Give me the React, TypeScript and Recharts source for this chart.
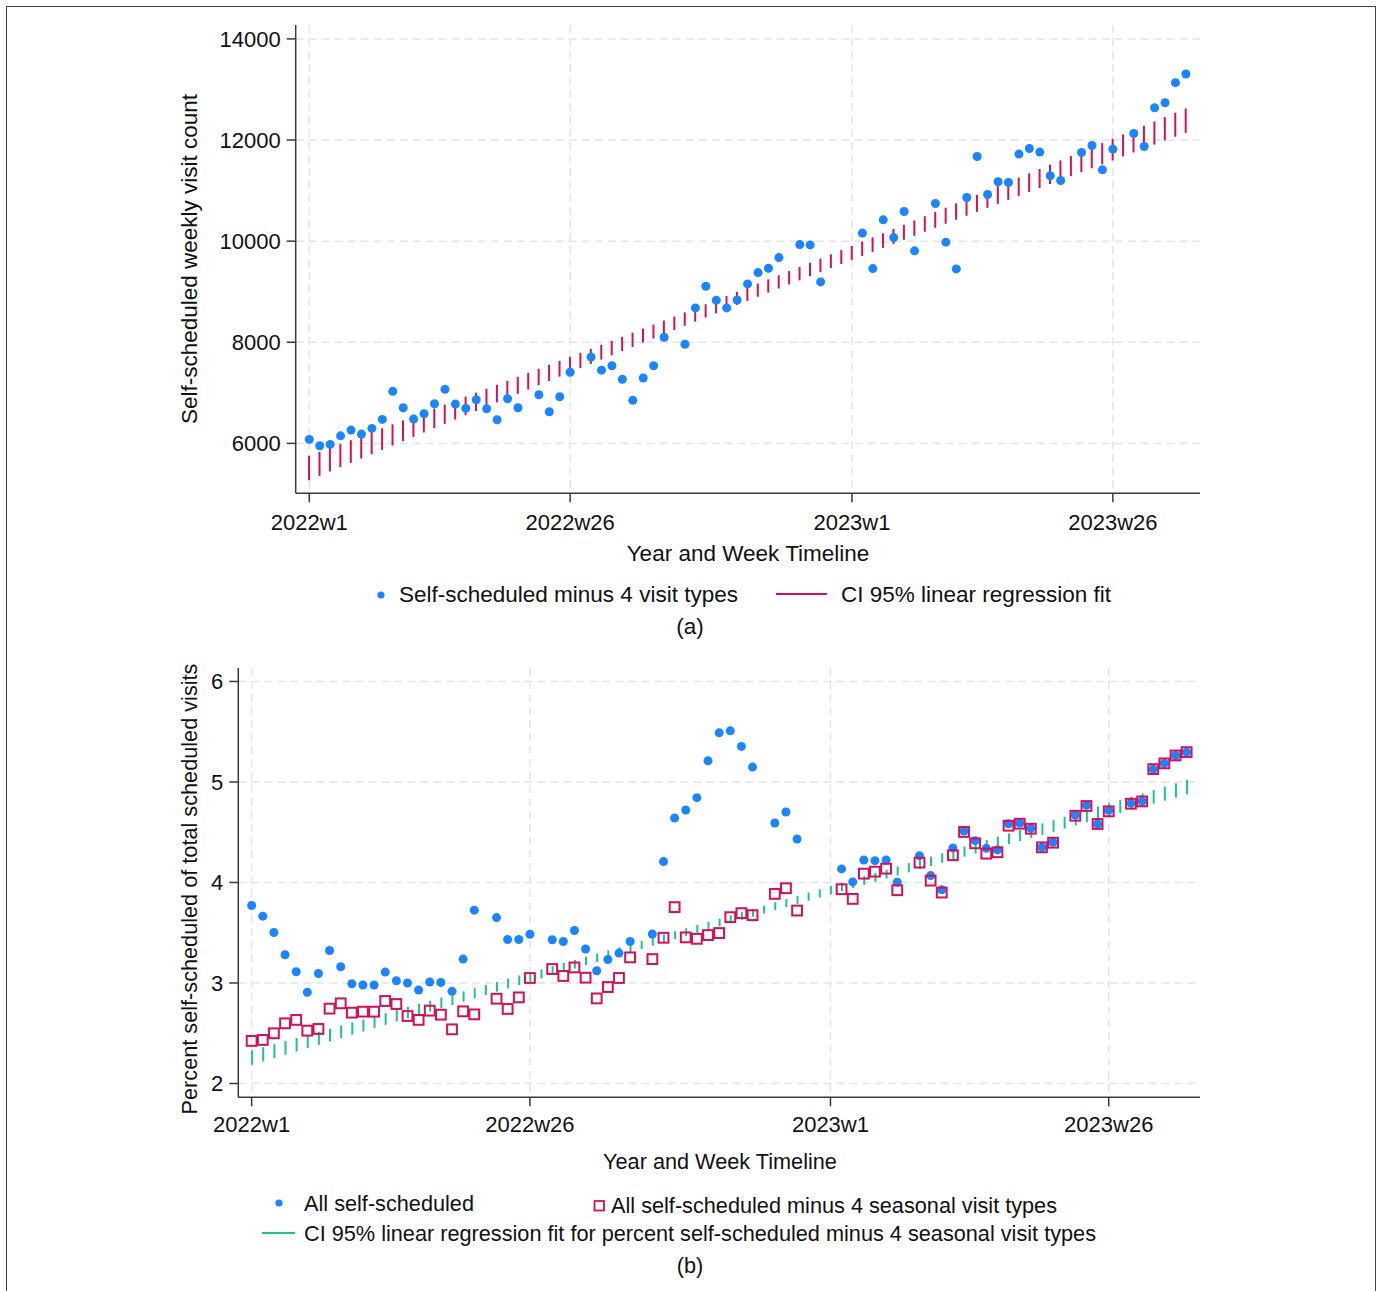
import { Bar, CartesianGrid, ComposedChart, Scatter, XAxis, YAxis } from "recharts";

const FONT = '"Liberation Sans", Arial, Helvetica, sans-serif';
const BLUE = "#1A85FF";
const RED = "#D41159";
const GREEN = "#1FC48A";
const AXIS = "#3a3a3a";
const GRID = "#e4e4e4";

// week index 0 = 2022w1, 52 = 2023w1 (Stata 52-week years)
const xTickWeeks = [0, 25, 52, 77];
const xTickLabels = ["2022w1", "2022w26", "2023w1", "2023w26"];

// panel (a): weekly self-scheduled visit count (minus 4 visit types); null = no point drawn
const visitsA = [
  6079, 5953, 5980, 6150, 6263, 6184, 6297, 6475, 7030, 6705,
  6481, 6586, 6784, 7069, 6778, 6693, 6863, 6685, 6467, 6883,
  6705, null, 6962, 6626, 6923, 7406, null, 7709, 7448, 7536,
  7267, 6851, 7293, 7536, 8099, null, 7960, 8679, 9109, 8831,
  8679, 8837, 9154, 9378, 9465, 9675, null, 9932, 9926, 9194,
  null, null, null, 10160, 9457, 10421, 10071, 10586, 9808, null,
  10744, 9980, 9451, 10863, 11675, 10922, 11174, 11160, 11722, 11833,
  11762, 11293, 11200, null, 11754, 11892, 11411, 11821, null, 12130,
  11873, 12639, 12738, 13134, 13306,
];
const ciLoA = [
  5272, 5358, 5444, 5530, 5615, 5701, 5787, 5872, 5958, 6044,
  6129, 6215, 6300, 6385, 6471, 6556, 6641, 6726, 6811, 6896,
  6981, 7066, 7151, 7235, 7320, 7404, 7489, 7573, 7657, 7741,
  7825, 7908, 7992, 8075, 8159, 8242, 8325, 8407, 8490, 8572,
  8655, 8737, 8819, 8900, 8982, 9063, 9144, 9225, 9306, 9387,
  9467, 9548, 9628, 9708, 9788, 9868, 9947, 10027, 10106, 10186,
  10265, 10344, 10423, 10502, 10580, 10659, 10738, 10816, 10895, 10973,
  11052, 11130, 11208, 11286, 11364, 11442, 11520, 11598, 11676, 11754,
  11832, 11910, 11988, 12066, 12143,
];
const ciHiA = [
  5754, 5832, 5909, 5987, 6065, 6143, 6221, 6299, 6377, 6455,
  6533, 6611, 6689, 6767, 6846, 6924, 7003, 7081, 7160, 7238,
  7317, 7396, 7475, 7554, 7633, 7712, 7791, 7870, 7950, 8030,
  8109, 8189, 8269, 8350, 8430, 8510, 8591, 8672, 8753, 8834,
  8915, 8997, 9079, 9161, 9243, 9325, 9407, 9490, 9573, 9656,
  9739, 9822, 9905, 9989, 10073, 10156, 10240, 10324, 10409, 10493,
  10577, 10662, 10747, 10831, 10916, 11001, 11086, 11171, 11256, 11341,
  11427, 11512, 11597, 11683, 11768, 11854, 11939, 12025, 12110, 12196,
  12282, 12368, 12453, 12539, 12625,
];
const yTicksA = [6000, 8000, 10000, 12000, 14000];

// panel (b): percent self-scheduled of total scheduled visits
const allSelfB = [
  3.771, 3.665, 3.503, 3.281, 3.112, 2.907, 3.095, 3.324, 3.162, 2.993,
  2.98, 2.98, 3.109, 3.023, 3.0, 2.93, 3.01, 3.006, 2.917, 3.238,
  3.725, null, 3.651, 3.433, 3.433, 3.485, null, 3.43, 3.413, 3.522,
  3.338, 3.122, 3.234, 3.298, 3.413, null, 3.487, 4.208, 4.642, 4.721,
  4.844, 5.211, 5.489, 5.509, 5.354, 5.148, null, 4.592, 4.701, 4.433,
  null, null, null, 4.135, 4.006, 4.224, 4.217, 4.224, 4.003, null,
  4.267, 4.069, 3.927, 4.344, 4.512, 4.416, 4.34, 4.324, 4.585, 4.592,
  4.539, 4.35, 4.4, null, 4.671, 4.768, 4.582, 4.718, null, 4.79,
  4.81, 5.128, 5.185, 5.264, 5.297,
];
const minusSeasonalB = [
  2.424, 2.434, 2.5, 2.599, 2.633, 2.526, 2.543, 2.745, 2.798, 2.705,
  2.715, 2.715, 2.821, 2.791, 2.672, 2.633, 2.725, 2.685, 2.539, 2.718,
  2.688, null, 2.844, 2.742, 2.857, 3.05, null, 3.139, 3.07, 3.155,
  3.053, 2.847, 2.96, 3.05, 3.255, null, 3.238, 3.45, 3.755, 3.454,
  3.44, 3.477, 3.497, 3.655, 3.695, 3.675, null, 3.887, 3.943, 3.721,
  null, null, null, 3.933, 3.837, 4.088, 4.108, 4.138, 3.923, null,
  4.198, 4.019, 3.9, 4.271, 4.503, 4.39, 4.287, 4.301, 4.565, 4.585,
  4.535, 4.35, 4.396, null, 4.664, 4.761, 4.582, 4.708, null, 4.784,
  4.807, 5.128, 5.185, 5.264, 5.297,
];
const ciLoB = [
  2.186, 2.219, 2.252, 2.286, 2.319, 2.352, 2.385, 2.418, 2.451, 2.485,
  2.518, 2.551, 2.584, 2.617, 2.65, 2.683, 2.716, 2.749, 2.782, 2.815,
  2.848, 2.881, 2.914, 2.947, 2.98, 3.013, 3.046, 3.079, 3.111, 3.144,
  3.177, 3.209, 3.242, 3.274, 3.307, 3.339, 3.371, 3.404, 3.436, 3.468,
  3.5, 3.532, 3.564, 3.596, 3.628, 3.66, 3.692, 3.724, 3.755, 3.787,
  3.819, 3.85, 3.882, 3.913, 3.945, 3.976, 4.007, 4.039, 4.07, 4.101,
  4.132, 4.163, 4.195, 4.226, 4.257, 4.288, 4.319, 4.35, 4.381, 4.412,
  4.443, 4.474, 4.505, 4.537, 4.568, 4.599, 4.629, 4.66, 4.691, 4.722,
  4.753, 4.784, 4.814, 4.845, 4.876,
];
const ciHiB = [
  2.33, 2.361, 2.392, 2.422, 2.453, 2.484, 2.515, 2.546, 2.577, 2.608,
  2.638, 2.669, 2.7, 2.731, 2.762, 2.793, 2.824, 2.855, 2.886, 2.917,
  2.948, 2.979, 3.01, 3.043, 3.074, 3.105, 3.136, 3.168, 3.199, 3.23,
  3.262, 3.293, 3.324, 3.356, 3.388, 3.419, 3.451, 3.483, 3.514, 3.546,
  3.578, 3.61, 3.642, 3.674, 3.706, 3.738, 3.77, 3.803, 3.835, 3.867,
  3.9, 3.932, 3.965, 3.997, 4.03, 4.062, 4.095, 4.128, 4.16, 4.193,
  4.226, 4.259, 4.291, 4.324, 4.357, 4.39, 4.423, 4.456, 4.489, 4.522,
  4.555, 4.588, 4.621, 4.655, 4.688, 4.722, 4.755, 4.788, 4.821, 4.854,
  4.887, 4.92, 4.954, 4.987, 5.02,
];
const yTicksB = [2, 3, 4, 5, 6];

const ciRowsA = ciLoA.map((lo, i) => ({ i, ci: [lo, ciHiA[i]] }));
const ciRowsB = ciLoB.map((lo, i) => ({ i, ci: [lo, ciHiB[i]] }));
const pts = (vals: (number | null)[]) =>
  vals.flatMap((v, i) => (v == null ? [] : [{ i, v }]));

const weekLabel = (v: number) => xTickLabels[xTickWeeks.indexOf(v)] ?? "";
const tickStyle = { fontSize: 22, fill: "#111", fontFamily: FONT };
const axisStyle = { stroke: AXIS, strokeWidth: 1.5 };

const Dot = (p: any) => <circle cx={p.cx} cy={p.cy} r={4.5} fill={BLUE} />;
const Square = (p: any) => (
  <rect x={p.cx - 4.9} y={p.cy - 4.9} width={9.8} height={9.8} fill="none" stroke={RED} strokeWidth={2} />
);

function PanelA() {
  return (
    <ComposedChart
      width={1378}
      height={560}
      data={ciRowsA}
      margin={{ top: 25, right: 178, bottom: 6.7, left: 195.7 }}
    >
      <CartesianGrid stroke={GRID} strokeDasharray="8 5" strokeWidth={1.5} syncWithTicks />
      <XAxis
        type="number"
        dataKey="i"
        domain={[-1.3, 85.35]}
        ticks={xTickWeeks}
        interval={0}
        tickFormatter={weekLabel}
        tick={tickStyle}
        tickSize={9}
        tickMargin={12}
        axisLine={axisStyle}
        tickLine={axisStyle}
        height={60}
      />
      <YAxis
        type="number"
        domain={[5013, 14275]}
        ticks={yTicksA}
        interval={0}
        tick={tickStyle}
        tickSize={9}
        tickMargin={6}
        axisLine={axisStyle}
        tickLine={axisStyle}
        width={100}
      />
      <Scatter data={pts(visitsA)} dataKey="v" shape={Dot} isAnimationActive={false} />
      <Bar dataKey="ci" fill={RED} barSize={2} isAnimationActive={false} />
    </ComposedChart>
  );
}

function PanelB() {
  return (
    <ComposedChart
      width={1378}
      height={530}
      data={ciRowsB}
      margin={{ top: 28, right: 178, bottom: 12.7, left: 138.3 }}
    >
      <CartesianGrid stroke={GRID} strokeDasharray="8 5" strokeWidth={1.5} syncWithTicks />
      <XAxis
        type="number"
        dataKey="i"
        domain={[-1.2, 85.2]}
        ticks={xTickWeeks}
        interval={0}
        tickFormatter={weekLabel}
        tick={tickStyle}
        tickSize={9}
        tickMargin={10}
        axisLine={axisStyle}
        tickLine={axisStyle}
        height={60}
      />
      <YAxis
        type="number"
        domain={[1.863, 6.134]}
        ticks={yTicksB}
        interval={0}
        tick={tickStyle}
        tickSize={9}
        tickMargin={6}
        axisLine={axisStyle}
        tickLine={axisStyle}
        width={100}
      />
      <Scatter data={pts(allSelfB)} dataKey="v" shape={Dot} isAnimationActive={false} />
      <Scatter data={pts(minusSeasonalB)} dataKey="v" shape={Square} isAnimationActive={false} />
      <Bar dataKey="ci" fill={GREEN} barSize={2} isAnimationActive={false} />
    </ComposedChart>
  );
}

export default function App() {
  return (
    <div
      style={{
        position: "absolute",
        left: 0,
        top: 0,
        width: 1378,
        height: 1291,
        background: "#fff",
        overflow: "hidden",
        fontFamily: FONT,
      }}
    >
      <div
        style={{
          position: "absolute",
          left: 6,
          top: 6,
          width: 1368,
          height: 1320,
          border: "1px solid #444",
        }}
      />
      <div style={{ position: "absolute", left: 0, top: 0 }}>
        <PanelA />
      </div>
      <div style={{ position: "absolute", left: 0, top: 640 }}>
        <PanelB />
      </div>
      <svg
        width={1378}
        height={1291}
        style={{ position: "absolute", left: 0, top: 0, pointerEvents: "none" }}
        fontFamily={FONT}
        fill="#111"
      >
        {/* panel (a) titles and legend */}
        <g fontSize={22.5}>
          <text transform="translate(197,259) rotate(-90)" textAnchor="middle">
            Self-scheduled weekly visit count
          </text>
          <text x={748} y={561} textAnchor="middle">Year and Week Timeline</text>
          <circle cx={381} cy={595} r={3.6} fill={BLUE} />
          <text x={399} y={602}>Self-scheduled minus 4 visit types</text>
          <line x1={776} x2={827} y1={594} y2={594} stroke={RED} strokeWidth={2} />
          <text x={841} y={602}>CI 95% linear regression fit</text>
          <text x={690} y={634} textAnchor="middle">(a)</text>
        </g>

        {/* panel (b) titles and legend */}
        <g fontSize={21.7}>
          <text transform="translate(197,889) rotate(-90)" textAnchor="middle">
            Percent self-scheduled of total scheduled visits
          </text>
          <text x={720} y={1169} textAnchor="middle">Year and Week Timeline</text>
          <circle cx={279} cy={1203} r={3.6} fill={BLUE} />
          <text x={304} y={1211}>All self-scheduled</text>
          <rect x={594.5} y={1201} width={9.5} height={9.5} fill="none" stroke={RED} strokeWidth={1.8} />
          <text x={611} y={1213}>All self-scheduled minus 4 seasonal visit types</text>
          <line x1={262} x2={295} y1={1233} y2={1233} stroke={GREEN} strokeWidth={2} />
          <text x={304} y={1241}>
            CI 95% linear regression fit for percent self-scheduled minus 4 seasonal visit types
          </text>
          <text x={690} y={1273} textAnchor="middle">(b)</text>
        </g>
      </svg>
    </div>
  );
}
